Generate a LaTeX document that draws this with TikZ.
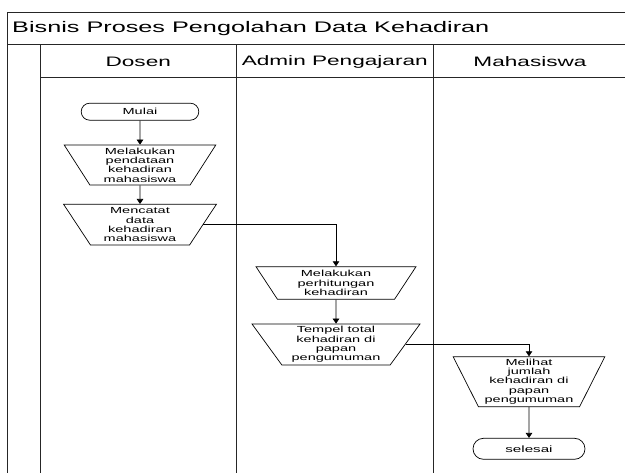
\documentclass[tikz,border=0pt]{standalone}
\usepackage{fontspec}
\setmainfont{Liberation Sans}[FakeStretch=1.65]
\usetikzlibrary{shapes.geometric,shapes.misc,arrows.meta}
\begin{document}
\begin{tikzpicture}[x=1pt,y=-1pt,
  frame/.style={line width=1pt, draw=black!85},
  conn/.style={line width=0.7pt, -{Triangle[length=5pt,width=6.5pt]}},
  smalltxt/.style={font=\fontsize{8.8}{9.25}\selectfont},
  term/.style={rounded rectangle, draw, line width=0.7pt, inner sep=0pt, smalltxt},
  trap/.style={trapezium, draw, line width=0.7pt, shape border rotate=180,
     trapezium stretches body, inner sep=0pt, align=center, smalltxt},
  head/.style={font=\fontsize{13.7}{16}\selectfont},
]
\useasboundingbox (0,0) rectangle (625,473);
\clip (0,0) rectangle (625,473);
% frame
\draw[frame] (7.5,480) -- (7.5,12.5) -- (632,12.5);
\draw[frame] (7.5,45) -- (632,45);
\draw[frame] (40,78) -- (632,78);
\draw[frame] (40,45) -- (40,480);
\draw[frame] (236.5,45) -- (236.5,480);
\draw[frame] (433,45) -- (433,480);
\draw[frame] (629,12.5) -- (629,480);
% texts
\node[anchor=west, font=\fontsize{15.3}{18}\selectfont, inner sep=0pt] (title) at (12,29) {Bisnis Proses Pengolahan Data Kehadiran};
\node[head] (h1) at (138.25,61.5) {Dosen};
\node[head] (h2) at (334.75,61.5) {Admin Pengajaran};
\node[head] (h3) at (530,61.5) {Mahasiswa};
% nodes
\node[term, minimum width=117.6pt, minimum height=17pt] (mulai) at (140,111.7) {Mulai};
\node[trap, minimum width=151.6pt, minimum height=40pt, trapezium angle=53.1] (t1) at (140,165) {Melakukan\\pendataan\\kehadiran\\mahasiswa};
\node[trap, minimum width=152.7pt, minimum height=40.7pt, trapezium angle=51.6] (t2) at (140,224.7) {Mencatat\\data\\kehadiran\\mahasiswa};
\node[trap, minimum width=160pt, minimum height=32.6pt, trapezium angle=49.3] (t3) at (336,283) {Melakukan\\perhitungan\\kehadiran};
\node[trap, minimum width=168pt, minimum height=41pt, trapezium angle=50.3] (t4) at (336,344.5) {Tempel total\\kehadiran di\\papan\\pengumuman};
\node[trap, minimum width=151.7pt, minimum height=50pt, trapezium angle=60.8] (t5) at (529,381.7) {Melihat\\jumlah\\kehadiran di\\papan\\pengumuman};
\node[term, minimum width=112pt, minimum height=21pt, font=\fontsize{9.2}{10}\selectfont] (selesai) at (529,448.8) {selesai};
% connectors
\draw[conn] (mulai) -- (t1);
\draw[conn] (t1) -- (t2);
\draw[conn] (t2.east) -| (t3.north);
\draw[conn] (t3) -- (t4);
\draw[conn] (t4.east) -| (t5.north);
\draw[conn] (t5) -- (selesai);
\end{tikzpicture}
\end{document}
